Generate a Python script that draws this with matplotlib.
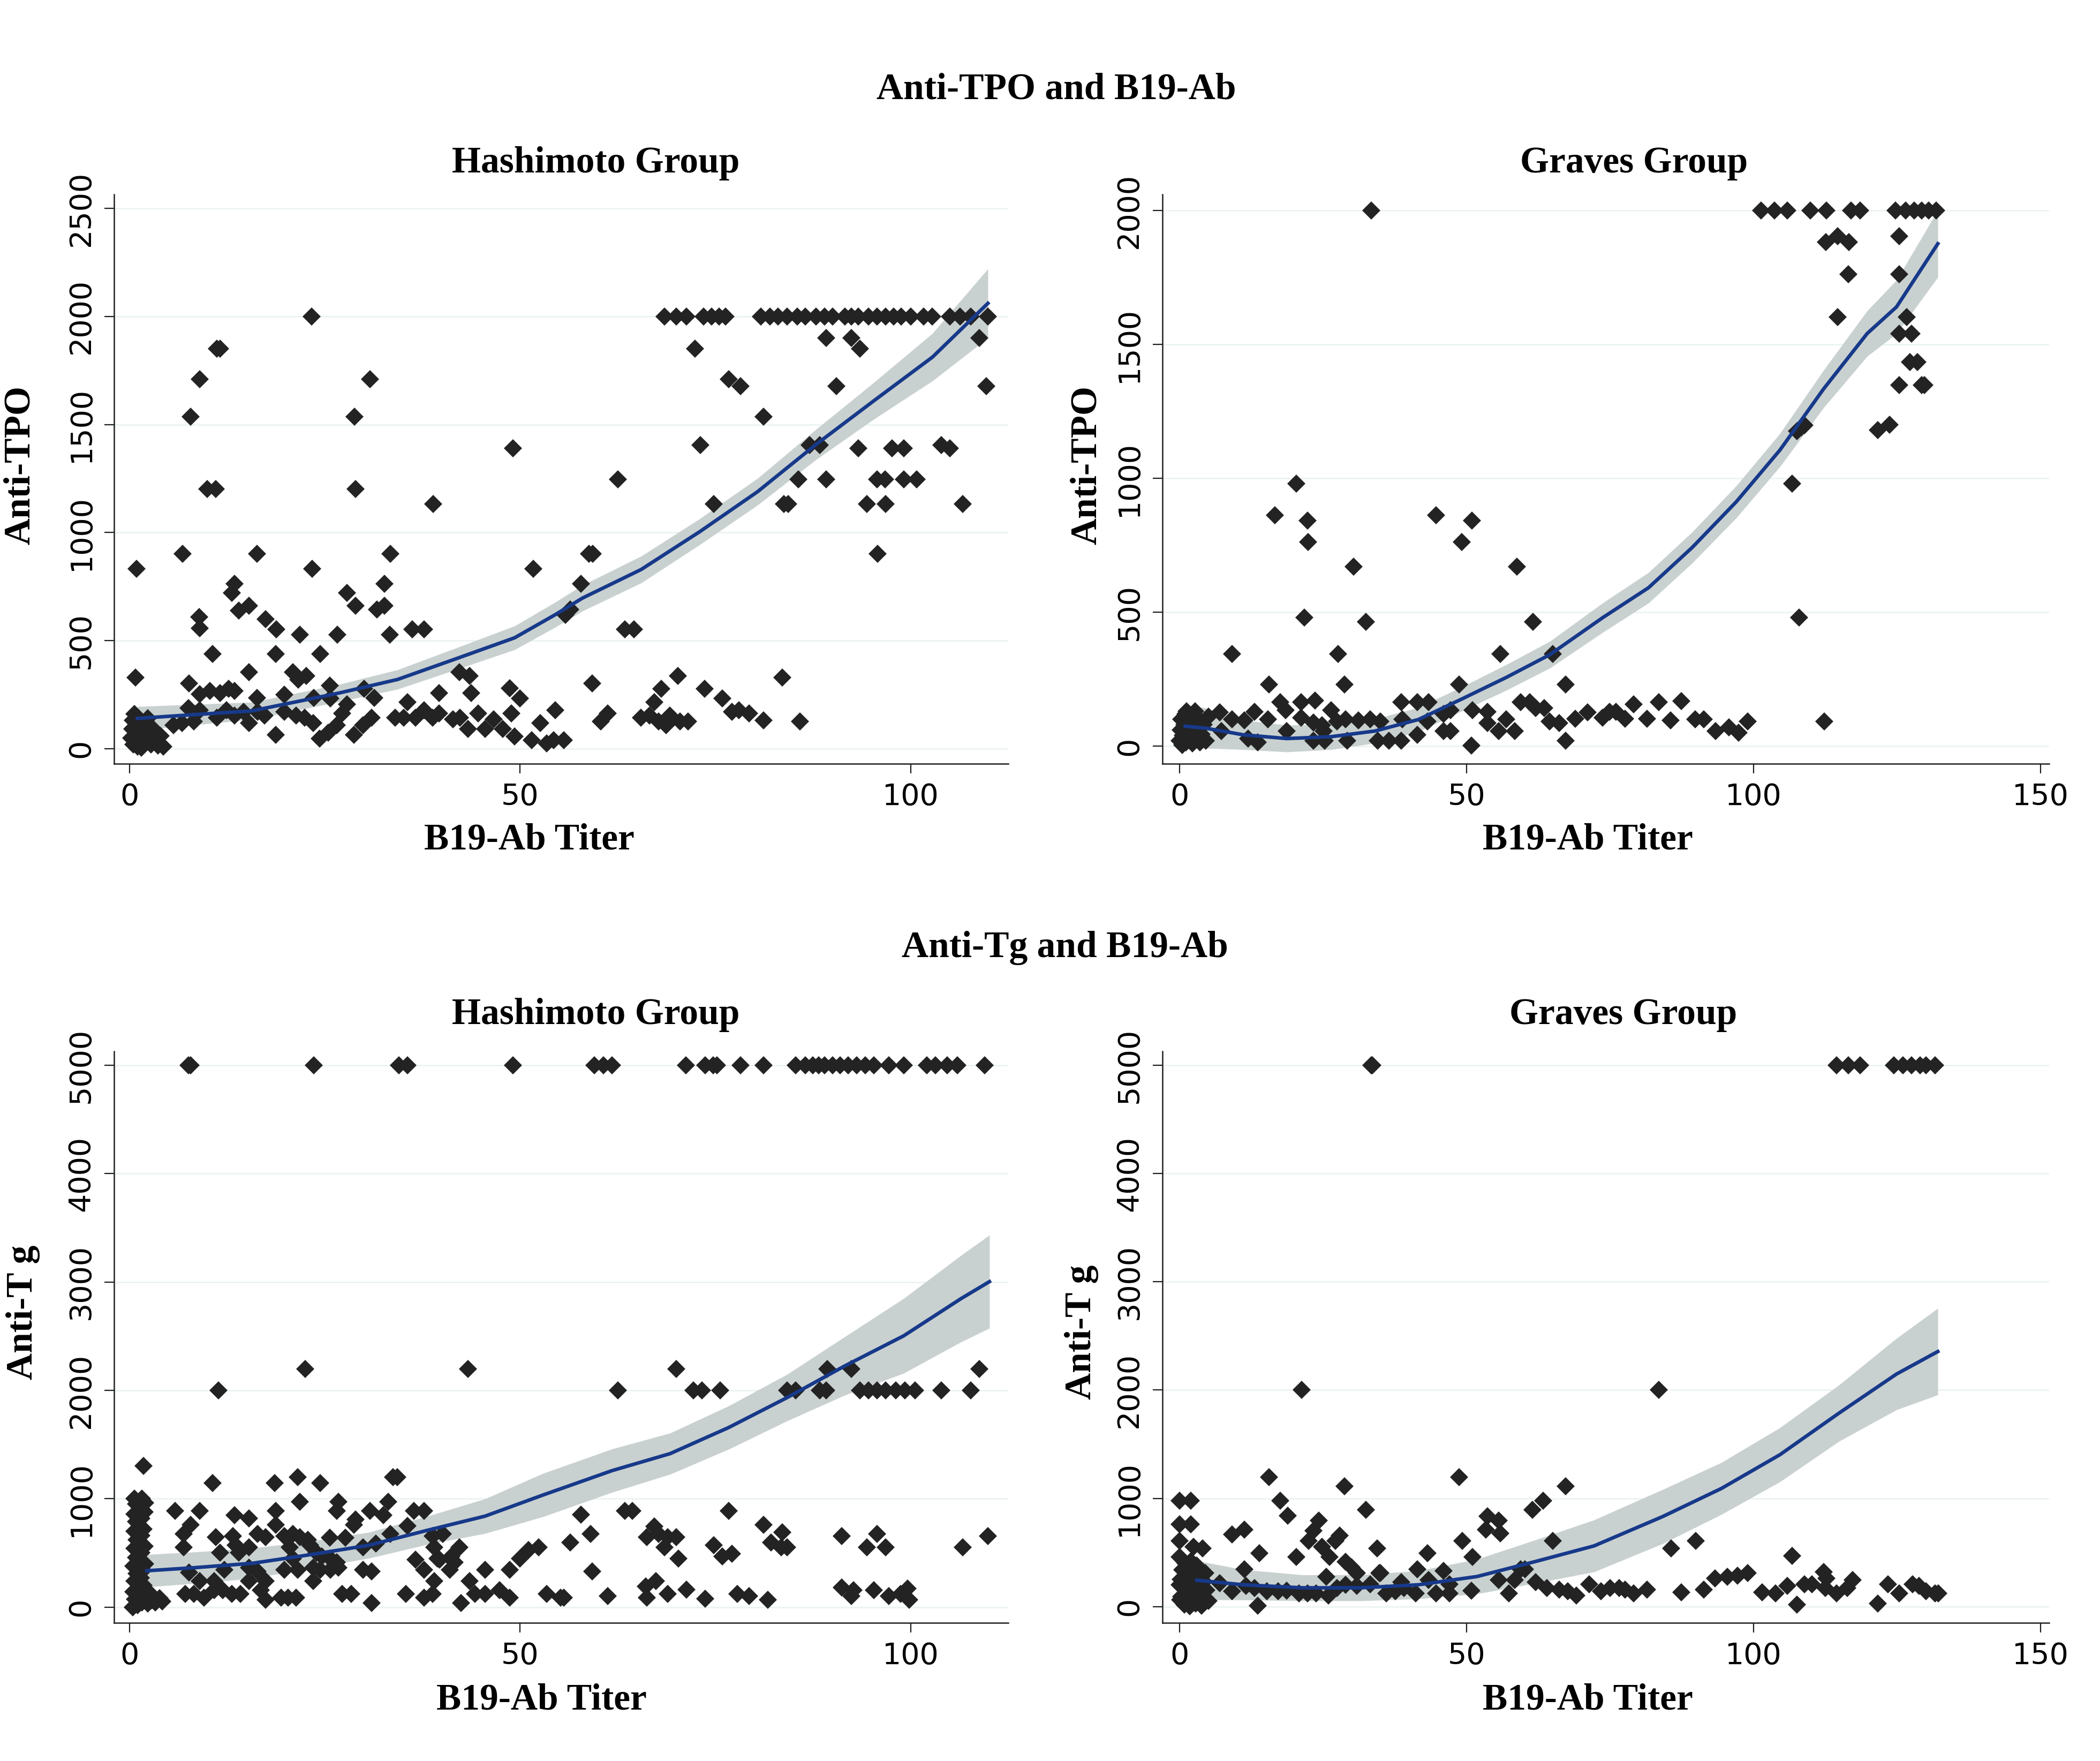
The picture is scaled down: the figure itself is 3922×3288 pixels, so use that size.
import numpy as np
import matplotlib
matplotlib.use("Agg")
import matplotlib.pyplot as plt

# ---- data ----
# Anti-TPO, Hashimoto group (x = B19-Ab titer, y = Anti-TPO)
tpo_hash_pts = [
    (0.2, 50), (0.3, 90), (0.4, 130), (0.5, 20), (0.6, 160), (0.8, 60), (0.9, 110), (1.0, 10),
    (1.1, 140), (1.2, 40), (1.4, 90), (1.5, 5), (1.6, 120), (1.8, 60), (2.0, 30), (2.1, 100),
    (2.3, 140), (2.5, 60), (2.7, 20), (3.0, 90), (3.2, 40), (3.6, 15), (4.0, 60), (4.3, 10),
    (0.9, 832), (0.75, 328), (6.8, 902), (7.8, 1536), (9.0, 1710), (11.2, 1852), (11.6, 1852),
    (9.9, 1201), (11.0, 1201), (23.3, 2001), (30.8, 1710), (28.8, 1536), (28.9, 1201), (38.9, 1132),
    (49.1, 1390), (51.7, 832), (16.3, 902), (23.4, 832), (33.4, 902), (13.4, 762), (13.1, 720),
    (32.6, 762), (27.8, 720), (8.9, 609), (9.0, 557), (14.0, 639), (15.3, 662), (17.4, 600),
    (18.8, 553), (21.8, 527), (26.6, 527), (28.9, 662), (31.7, 644), (32.6, 662), (33.3, 527),
    (36.2, 553), (37.7, 553), (10.6, 437), (18.7, 437), (24.4, 437), (15.3, 355), (20.9, 355),
    (21.6, 320), (22.6, 337), (7.6, 302), (9.0, 253), (10.3, 267), (11.6, 258), (12.7, 276),
    (13.4, 267), (7.5, 188), (9.0, 179), (16.3, 235), (19.8, 249), (25.6, 293), (25.7, 232),
    (23.6, 235), (30.0, 276), (31.3, 235), (39.6, 258), (43.7, 258), (42.2, 355), (43.5, 337),
    (48.7, 279), (50.0, 232), (54.5, 179), (5.6, 109), (6.7, 118), (8.2, 126), (11.2, 144),
    (12.4, 179), (13.4, 153), (14.6, 170), (15.3, 118), (16.4, 170), (17.3, 153), (18.7, 65),
    (19.8, 170), (21.3, 153), (22.4, 144), (23.5, 118), (24.3, 47), (25.4, 74), (26.5, 109),
    (27.2, 162), (27.8, 205), (28.7, 65), (29.9, 109), (31.0, 144), (34.0, 144), (35.1, 144),
    (35.6, 214), (36.6, 144), (37.7, 179), (38.8, 144), (39.6, 162), (41.4, 135), (42.3, 144),
    (43.3, 91), (44.6, 162), (45.5, 91), (46.6, 135), (47.8, 91), (48.9, 162), (49.3, 56),
    (51.5, 39), (52.6, 118), (53.4, 25), (54.3, 39),
    (55.6, 39), (55.8, 618), (56.4, 644), (57.8, 762), (58.8, 902), (59.3, 902), (59.2, 302),
    (60.3, 126), (61.2, 162), (62.5, 1246), (63.4, 553), (64.6, 553), (65.5, 144), (66.6, 153),
    (67.2, 214), (68.1, 276), (67.7, 126), (68.7, 109), (69.2, 153), (70.2, 337), (70.5, 126),
    (71.5, 126), (72.4, 1852), (73.1, 1404), (73.6, 276), (74.8, 1132), (75.9, 232), (76.7, 1710),
    (78.2, 1677), (77.1, 170), (78.0, 179), (79.3, 162), (81.2, 1536), (81.2, 130), (83.6, 328),
    (83.8, 1132), (84.3, 1132), (85.6, 1246), (85.8, 126), (87.1, 1404), (88.4, 1404), (89.2, 1900),
    (89.2, 1246), (90.5, 1677), (92.4, 1900), (93.5, 1852), (93.3, 1390), (94.4, 1132), (96.8, 1132),
    (95.7, 1246), (96.7, 1246), (95.8, 902), (97.6, 1390), (99.1, 1390), (99.1, 1246), (100.8, 1246),
    (103.9, 1404), (105.0, 1390), (106.7, 1132), (108.8, 1900), (109.7, 1677),
    (68.5, 2000), (70.0, 2000), (71.3, 2000), (73.5, 2000), (74.5, 2000), (75.5, 2000), (76.3, 2000),
    (80.8, 2000), (82.0, 2000), (83.0, 2000), (84.2, 2000), (85.5, 2000), (86.5, 2000), (87.9, 2000),
    (89.0, 2000), (90.0, 2000), (91.6, 2000), (92.4, 2000), (93.3, 2000), (94.6, 2000), (95.7, 2000),
    (96.8, 2000), (97.8, 2000), (98.8, 2000), (100.0, 2000), (101.7, 2000), (102.8, 2000),
    (105.0, 2000), (106.3, 2000), (107.7, 2000), (109.9, 2000),
]

# Anti-TPO, Graves group
tpo_grav_pts = [
    (0.0, 20), (0.2, 60), (0.3, 100), (0.5, 5), (0.6, 40), (0.8, 80), (1.0, 120), (1.1, 15),
    (1.3, 55), (1.5, 95), (1.7, 30), (1.9, 70), (2.0, 110), (2.2, 10), (2.4, 50), (2.6, 90),
    (2.8, 25), (3.0, 60), (3.3, 100), (3.5, 15), (3.8, 45), (4.2, 80), (4.6, 20), (5.0, 110),
    (1.2, 130), (2.7, 130),
    (33.4, 2001), (20.3, 980), (16.6, 862), (22.3, 843), (22.4, 762), (30.3, 670), (44.7, 862),
    (50.9, 843), (49.2, 762), (58.8, 670), (21.7, 481), (32.5, 464), (61.6, 464), (9.1, 345),
    (27.6, 345), (55.9, 345), (65.0, 345), (15.6, 231), (28.7, 231), (48.7, 231), (67.3, 231),
    (7.0, 126), (9.1, 100), (11.3, 97), (13.1, 128), (15.4, 100), (17.5, 164), (18.5, 135),
    (18.7, 57), (21.2, 164), (21.2, 107), (23.6, 171), (23.3, 88), (24.8, 78), (26.4, 135),
    (27.4, 93), (28.9, 100), (31.2, 97), (33.2, 100), (35.0, 93), (38.6, 164), (41.4, 164),
    (43.4, 164), (38.8, 100), (43.2, 93), (46.0, 121), (47.2, 135), (46.0, 57), (51.0, 135),
    (53.6, 128), (53.6, 86), (55.6, 57), (56.9, 100), (58.4, 57), (59.4, 164), (61.0, 164),
    (62.0, 143), (63.5, 143), (64.5, 93), (66.1, 86), (67.3, 21), (68.9, 103), (71.1, 126),
    (73.7, 107), (74.9, 128), (11.9, 29), (13.6, 14), (23.3, 21), (25.3, 21), (29.2, 21),
    (34.5, 21), (36.5, 21), (38.6, 21), (41.4, 43), (47.2, 57), (50.8, 3), (7.3, 57), (25.1, 57),
    (76.0, 128), (77.6, 103), (79.1, 157), (81.4, 103), (83.5, 164), (85.5, 97), (87.4, 168),
    (89.8, 100), (91.3, 100), (93.4, 57), (95.7, 71), (97.4, 50), (99.0, 93), (107.9, 481),
    (112.3, 93), (106.7, 980), (112.6, 1883), (114.6, 1904), (116.6, 1883), (116.5, 1762),
    (114.6, 1602), (125.4, 1904), (125.4, 1762), (126.7, 1602), (125.4, 1541), (127.5, 1541),
    (127.2, 1434), (128.5, 1434), (125.4, 1348), (129.3, 1348), (129.8, 1348), (121.6, 1181),
    (123.7, 1201), (107.6, 1177), (108.3, 1190), (108.9, 1198),
    (101.3, 2000), (103.6, 2000), (105.9, 2000), (109.9, 2000), (112.7, 2000), (117.0, 2000),
    (118.6, 2000), (124.7, 2000), (126.5, 2000), (128.0, 2000), (129.3, 2000), (130.5, 2000),
    (131.8, 2000),
]

# Anti-Tg, Hashimoto group
tg_hash_pts = [
    (0.4, 0), (1.0, 20), (1.6, 40), (0.7, 70), (1.3, 100), (2.0, 90), (0.5, 140), (1.1, 170),
    (1.8, 200), (0.6, 240), (1.4, 270), (0.9, 310), (1.7, 340), (0.5, 380), (1.2, 420), (2.0, 400),
    (0.8, 460), (1.5, 500), (0.6, 540), (1.2, 580), (1.9, 560), (0.9, 620), (1.5, 660), (0.6, 700),
    (1.2, 740), (1.8, 720), (0.8, 790), (1.5, 820), (0.6, 860), (1.2, 900), (1.9, 880), (0.8, 950),
    (1.4, 980), (2.0, 960), (0.6, 1000), (1.6, 1000), (2.3, 30), (2.8, 60), (3.3, 40), (3.8, 80),
    (4.2, 50), (2.5, 130),
    (7.5, 5000), (7.8, 5000), (23.6, 5000), (34.5, 5000), (35.6, 5000), (49.1, 5000),
    (22.5, 2200), (43.3, 2200), (11.4, 2000), (1.8, 1302), (10.6, 1146), (18.6, 1146), (21.5, 1198),
    (24.4, 1146), (33.7, 1198), (34.3, 1198), (21.8, 974), (26.7, 974), (33.1, 974), (5.8, 887),
    (9.0, 887), (18.7, 887), (26.5, 887), (30.8, 887), (36.4, 887), (37.7, 887), (7.8, 760),
    (13.4, 846), (15.3, 818), (18.7, 760), (32.5, 846), (6.9, 673), (6.9, 552), (11.0, 646),
    (13.2, 656), (13.6, 570), (16.4, 673), (17.4, 646), (19.8, 656), (20.9, 673), (21.8, 646),
    (22.8, 622), (25.6, 639), (27.6, 639), (28.7, 760), (28.9, 811), (33.4, 673), (35.6, 749),
    (38.8, 656), (40.1, 673), (15.3, 552), (14.0, 501), (11.6, 501), (20.5, 552), (20.9, 449),
    (23.1, 570), (23.9, 501), (24.6, 466), (25.7, 449), (26.5, 414), (29.9, 552), (31.5, 587),
    (39.0, 552), (39.4, 449), (41.2, 466), (42.2, 552), (36.6, 439), (37.7, 345), (39.7, 439),
    (41.0, 345), (41.6, 414), (50.0, 449), (51.1, 528), (52.4, 552), (7.6, 321), (12.1, 345),
    (15.3, 363), (16.4, 328), (19.8, 345), (21.5, 345), (23.5, 363), (24.4, 345), (25.7, 345),
    (26.7, 363), (29.9, 345), (31.0, 328), (45.5, 345), (48.7, 345), (9.0, 242), (10.8, 242),
    (15.3, 242), (17.4, 242), (23.5, 242), (39.0, 242), (43.5, 242),
    (7.1, 121), (8.2, 121), (9.5, 86), (10.8, 155), (11.9, 155), (13.1, 121), (14.2, 121),
    (16.8, 155), (17.4, 69), (19.4, 86), (20.3, 86), (21.3, 86), (27.2, 121), (28.4, 121),
    (31.0, 35), (35.4, 121), (37.7, 86), (38.8, 121), (42.4, 35), (44.2, 121), (45.5, 121),
    (47.4, 155), (48.7, 86), (53.4, 121), (55.2, 86),
    (59.5, 5000), (60.7, 5000), (61.8, 5000), (71.2, 5000), (73.7, 5000), (74.7, 5000), (75.2, 5000),
    (78.2, 5000), (81.2, 5000), (85.3, 5000), (86.5, 5000), (87.5, 5000), (88.2, 5000), (89.0, 5000),
    (90.0, 5000), (91.0, 5000), (92.0, 5000), (93.1, 5000), (94.2, 5000), (95.3, 5000), (97.2, 5000),
    (99.1, 5000), (102.1, 5000), (103.2, 5000), (104.7, 5000), (106.0, 5000), (109.5, 5000),
    (70.0, 2200), (89.3, 2200), (92.4, 2200), (108.8, 2200),
    (62.5, 2000), (72.2, 2000), (73.3, 2000), (75.6, 2000), (84.2, 2000), (85.3, 2000), (88.4, 2000),
    (89.2, 2000), (93.5, 2000), (94.6, 2000), (95.7, 2000), (96.8, 2000), (98.1, 2000), (99.3, 2000),
    (100.6, 2000), (103.9, 2000), (107.7, 2000),
    (57.8, 853), (63.4, 887), (64.4, 887), (76.7, 887), (59.0, 673), (56.4, 597), (67.2, 742),
    (66.2, 646), (67.7, 673), (68.9, 646), (70.0, 646), (68.5, 552), (70.3, 449), (74.8, 570),
    (75.9, 466), (77.1, 494), (81.2, 760), (83.6, 691), (82.1, 597), (83.4, 552), (84.2, 552),
    (91.2, 656), (95.7, 673), (94.4, 552), (96.8, 552), (106.7, 552), (109.9, 656), (59.2, 328),
    (55.6, 86), (61.2, 104), (66.1, 190), (67.4, 242), (66.2, 86), (68.9, 121), (71.3, 162),
    (73.7, 79), (77.8, 121), (79.3, 104), (81.7, 69), (91.2, 183), (92.7, 155), (92.4, 104),
    (95.3, 155), (97.2, 104), (98.7, 121), (99.6, 173), (99.8, 69),
]

# Anti-Tg, Graves group
tg_grav_pts = [
    (0.0, 980), (2.0, 980), (0.0, 762), (2.0, 762), (0.0, 606), (2.4, 554), (4.0, 537),
    (0.0, 460), (1.0, 400), (2.0, 420), (3.0, 380), (0.5, 340), (1.5, 300), (2.5, 330), (3.5, 290),
    (4.5, 310), (0.2, 250), (1.2, 220), (2.2, 260), (3.2, 200), (4.2, 230), (0.7, 170), (1.7, 140),
    (2.7, 180), (3.7, 120), (4.7, 150), (0.3, 90), (1.3, 60), (2.3, 100), (3.3, 40), (4.3, 80),
    (0.8, 20), (1.8, 5), (2.8, 30), (3.8, 10), (5.0, 50), (0.0, 200), (0.1, 60),
    (33.4, 5000), (33.6, 5000), (21.3, 2000), (15.6, 1195), (17.5, 980), (18.8, 838), (28.7, 1109),
    (32.5, 894), (48.7, 1195), (67.3, 1109), (61.5, 894), (63.3, 980), (9.1, 665), (11.3, 710),
    (13.9, 492), (23.3, 700), (24.3, 797), (22.5, 606), (20.3, 457), (24.8, 554), (26.1, 457),
    (25.6, 277), (27.1, 606), (27.9, 658), (34.4, 537), (28.9, 416), (29.9, 364), (30.9, 312),
    (34.8, 312), (49.3, 606), (51.0, 457), (53.6, 832), (55.6, 797), (53.4, 710), (55.9, 676),
    (65.0, 606), (11.3, 346), (7.0, 215), (9.1, 139), (11.6, 191), (13.1, 173), (15.2, 139),
    (17.2, 139), (18.7, 146), (13.6, 7), (20.8, 121), (22.3, 121), (23.8, 121), (25.9, 104),
    (27.4, 173), (28.9, 201), (30.9, 191), (33.2, 208), (35.0, 312), (36.0, 121), (37.6, 139),
    (38.6, 225), (39.1, 173), (41.4, 346), (41.1, 121), (43.2, 492), (43.4, 243), (44.7, 121),
    (46.0, 329), (47.0, 208), (47.0, 121), (50.8, 146), (55.6, 243), (57.4, 121), (58.4, 243),
    (59.4, 346), (60.2, 346), (62.0, 225), (64.0, 173), (66.1, 156), (67.6, 139), (69.1, 104),
    (71.4, 208), (73.4, 139), (75.0, 173),
    (76.6, 173), (77.6, 156), (79.1, 121), (81.4, 156), (83.5, 2000), (85.6, 537), (89.9, 606),
    (87.4, 132), (91.3, 156), (93.3, 260), (95.4, 277), (97.2, 284), (99.0, 312), (101.5, 132),
    (103.8, 121), (105.9, 191), (107.6, 17), (108.9, 208), (110.2, 208), (106.7, 468), (112.2, 319),
    (112.7, 260), (112.5, 173), (114.5, 121), (116.3, 173), (117.3, 243), (121.6, 28), (123.4, 208),
    (125.4, 121), (127.7, 208), (128.8, 191), (130.0, 139), (131.6, 121), (132.2, 121),
    (114.5, 5000), (116.5, 5000), (118.6, 5000), (124.4, 5000), (126.0, 5000), (127.5, 5000),
    (129.0, 5000), (130.0, 5000), (131.6, 5000),
]

# fitted curves with confidence band (fit value and half-width of the band)
tpo_hash_fit_x = [1, 15.7, 26.9, 34.3, 41.8, 49.3, 54.5, 58.0, 65.5, 73.0, 80.4, 87.9, 95.3, 102.8, 109.9]
tpo_hash_fit_y = [140, 175, 258, 320, 416, 513, 620, 697, 829, 1004, 1189, 1408, 1610, 1812, 2061]
tpo_hash_fit_ci = [55, 40, 40, 45, 50, 55, 58, 60, 62, 60, 62, 70, 85, 110, 160]

tpo_grav_fit_x = [1, 4.5, 11.1, 18.7, 26.4, 34.0, 41.6, 49.3, 56.9, 64.5, 73.7, 81.7, 89.3, 97.0, 104.6, 112.2, 119.8, 124.9, 132.1]
tpo_grav_fit_y = [75, 68, 43, 29, 36, 57, 100, 178, 257, 342, 480, 592, 742, 913, 1106, 1334, 1541, 1640, 1876]
tpo_grav_fit_ci = [80, 75, 55, 50, 48, 45, 45, 45, 48, 50, 55, 57, 58, 60, 62, 70, 85, 100, 125]

tg_hash_fit_x = [2.2, 8.2, 15.7, 23.1, 30.6, 38.1, 45.5, 53.0, 61.8, 69.2, 76.7, 84.2, 91.6, 99.1, 106.5, 110.1]
tg_hash_fit_y = [335, 363, 404, 483, 570, 708, 839, 1036, 1260, 1416, 1657, 1934, 2227, 2503, 2849, 3004]
tg_hash_fit_ci = [150, 145, 140, 125, 120, 130, 160, 200, 200, 190, 200, 215, 270, 345, 400, 430]

tg_grav_fit_x = [3.0, 11.1, 21.3, 31.5, 41.6, 51.8, 62.0, 72.2, 84.2, 94.4, 104.6, 114.8, 124.9, 132.1]
tg_grav_fit_y = [243, 201, 173, 173, 201, 277, 416, 560, 832, 1091, 1403, 1784, 2148, 2356]
tg_grav_fit_ci = [180, 140, 120, 120, 130, 160, 200, 240, 250, 240, 250, 260, 330, 400]

tpo_ticks = [0, 500, 1000, 1500, 2000, 2500]
tpo_grav_ticks = [0, 500, 1000, 1500, 2000]
tg_ticks = [0, 1000, 2000, 3000, 4000, 5000]

TITLE_FONT = dict(family="Liberation Serif", weight="bold", size=50)
TICK_FONT = "DejaVu Sans"
MARK = "#232323"
LINE = "#17398a"
BAND = "#c9d1d0"


def draw_panel(ax, pts, fx, fy, fci, xlim, ylim, xticks, yticks):
    pts = np.array(pts, dtype=float)
    fx = np.array(fx, dtype=float)
    fy = np.array(fy, dtype=float)
    fci = np.array(fci, dtype=float)
    for t in yticks:
        ax.axhline(t, color="#e9f2f1", linewidth=1.8, zorder=0)
    ax.fill_between(fx, fy - fci, fy + fci, color=BAND, linewidth=0, zorder=1)
    ax.plot(pts[:, 0], pts[:, 1], linestyle="none", marker="D", markersize=17,
            color=MARK, markeredgewidth=0, zorder=2)
    ax.plot(fx, fy, color=LINE, linewidth=4.8, zorder=3)
    ax.set_xlim(*xlim)
    ax.set_ylim(*ylim)
    ax.set_xticks(xticks)
    ax.set_yticks(yticks)
    for s in ["top", "right"]:
        ax.spines[s].set_visible(False)
    for s in ["left", "bottom"]:
        ax.spines[s].set_linewidth(1.8)
        ax.spines[s].set_color("#1e1e1e")
    ax.tick_params(axis="both", length=13, width=1.6, color="#1e1e1e", labelsize=40, pad=12)
    for lab in ax.get_yticklabels():
        lab.set_rotation(90)
        lab.set_va("center")
        lab.set_family(TICK_FONT)
    for lab in ax.get_xticklabels():
        lab.set_family(TICK_FONT)


fig = plt.figure(figsize=(39.22, 32.88), dpi=100)
fig.patch.set_facecolor("white")

ax1 = fig.add_axes([0.0543, 0.5663, 0.4258, 0.3233])
ax2 = fig.add_axes([0.5535, 0.5663, 0.4223, 0.3233])
ax3 = fig.add_axes([0.0543, 0.0785, 0.4258, 0.3245])
ax4 = fig.add_axes([0.5535, 0.0785, 0.4223, 0.3245])

draw_panel(ax1, tpo_hash_pts, tpo_hash_fit_x, tpo_hash_fit_y, tpo_hash_fit_ci,
           (-2.0, 112.5), (-70, 2565), [0, 50, 100], tpo_ticks)
draw_panel(ax2, tpo_grav_pts, tpo_grav_fit_x, tpo_grav_fit_y, tpo_grav_fit_ci,
           (-3.0, 151.5), (-65, 2060), [0, 50, 100, 150], tpo_grav_ticks)
draw_panel(ax3, tg_hash_pts, tg_hash_fit_x, tg_hash_fit_y, tg_hash_fit_ci,
           (-2.0, 112.5), (-145, 5130), [0, 50, 100], tg_ticks)
draw_panel(ax4, tg_grav_pts, tg_grav_fit_x, tg_grav_fit_y, tg_grav_fit_ci,
           (-3.0, 151.5), (-150, 5130), [0, 50, 100, 150], tg_ticks)

# titles and axis labels
fig.text(0.503, 0.949, "Anti-TPO and B19-Ab", ha="center", va="center", **TITLE_FONT)
fig.text(0.507, 0.4617, "Anti-Tg and B19-Ab", ha="center", va="center", **TITLE_FONT)
fig.text(0.2838, 0.9072, "Hashimoto Group", ha="center", va="center", **TITLE_FONT)
fig.text(0.778, 0.9072, "Graves Group", ha="center", va="center", **TITLE_FONT)
fig.text(0.2838, 0.4236, "Hashimoto Group", ha="center", va="center", **TITLE_FONT)
fig.text(0.773, 0.4236, "Graves Group", ha="center", va="center", **TITLE_FONT)
fig.text(0.252, 0.523, "B19-Ab Titer", ha="center", va="center", **TITLE_FONT)
fig.text(0.756, 0.523, "B19-Ab Titer", ha="center", va="center", **TITLE_FONT)
fig.text(0.258, 0.0344, "B19-Ab Titer", ha="center", va="center", **TITLE_FONT)
fig.text(0.756, 0.0344, "B19-Ab Titer", ha="center", va="center", **TITLE_FONT)
fig.text(0.0097, 0.736, "Anti-TPO", ha="center", va="center", rotation=90, **TITLE_FONT)
fig.text(0.5176, 0.736, "Anti-TPO", ha="center", va="center", rotation=90, **TITLE_FONT)
fig.text(0.011, 0.2549, "Anti-T g", ha="center", va="center", rotation=90, **TITLE_FONT)
fig.text(0.515, 0.2434, "Anti-T g", ha="center", va="center", rotation=90, **TITLE_FONT)

fig.savefig("out.png", dpi=100, facecolor="white")
